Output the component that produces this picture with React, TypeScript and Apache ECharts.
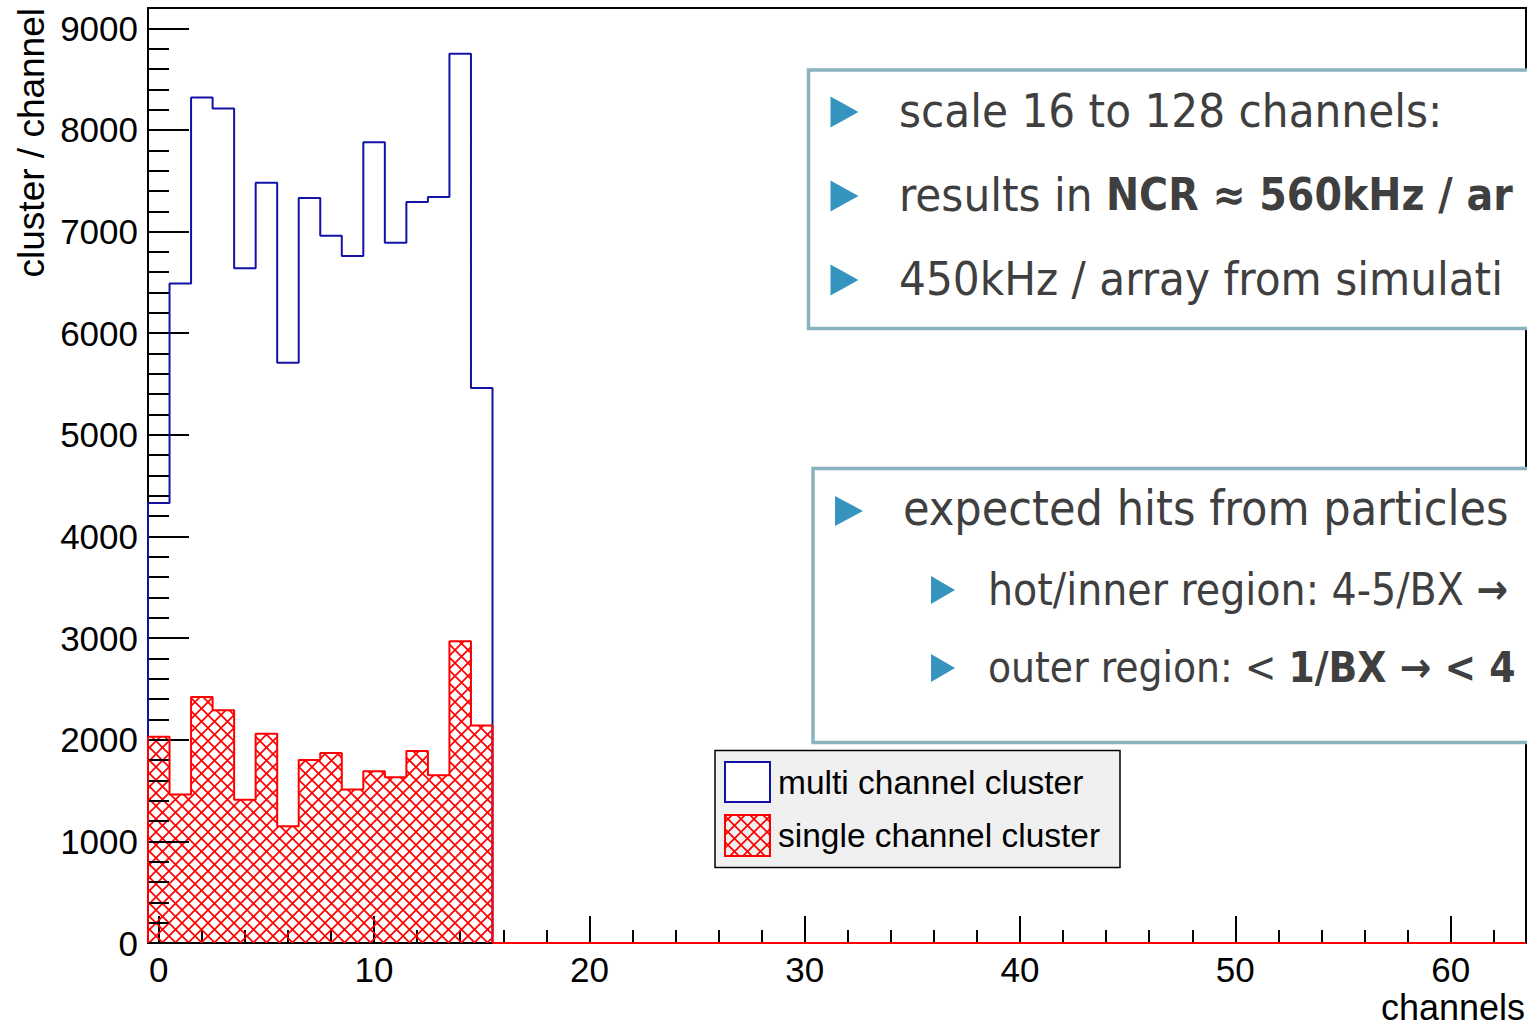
import React, { useEffect, useRef } from "react";
import * as echarts from "echarts";

// ---------------- data ----------------
const channelMin = -0.5;
const channelMax = 63.5;
const binCount = 64; // bins centred on channels 0..63, bins 16..63 are empty
const multiChannelCluster = [4330, 6490, 8320, 8210, 6640, 7480, 5710, 7330, 6960, 6760, 7880, 6890, 7290, 7340, 8750, 5460];
const singleChannelCluster = [2030, 1460, 2420, 2290, 1410, 2060, 1150, 1800, 1870, 1510, 1690, 1630, 1890, 1650, 2970, 2140];

const xMajorTicks = [0, 10, 20, 30, 40, 50, 60];
const xMinorTicks = [0, 2, 4, 6, 8, 10, 12, 14, 16, 18, 20, 22, 24, 26, 28, 30, 32, 34, 36, 38, 40, 42, 44, 46, 48, 50, 52, 54, 56, 58, 60, 62];
const yMin = 0;
const yMax = 9200;
const yMajorTicks = [0, 1000, 2000, 3000, 4000, 5000, 6000, 7000, 8000, 9000];
const yMinorStep = 200;

const xTitle = "channels";
const yTitle = "cluster / channel";
const legendLabels = ["multi channel cluster", "single channel cluster"];

// text boxes (as far as they are visible in the cropped slide): [text, bold] segments
const box1Lines: [string, boolean][][] = [
  [["scale 16 to 128 channels:", false]],
  [["results in ", false], ["NCR ≈ 560kHz / ar", true]],
  [["450kHz / array from simulati", false]],
];
const box2Main: [string, boolean][] = [["expected hits from particles", false]];
const box2Sub: [string, boolean][][] = [
  [["hot/inner region: 4-5/BX ", false], ["→", true]],
  [["outer region: < ", false], ["1/BX → < 4", true]],
];

// ---------------- styles ----------------
const BLUE = "#1212a6";
const RED = "#ff0000";
const BOX_BORDER = "#8ab3c0";
const BULLET = "#3595bf";
const BOX_TEXT = "#3f3f3f";
const AXIS_FONT = "'Liberation Sans', Arial, Helvetica, sans-serif";
const BOX_FONT = "'DejaVu Sans Condensed', 'DejaVu Sans', sans-serif";

function stepData(values: number[]): number[][] {
  const pts: number[][] = [[channelMin, 0]];
  for (let i = 0; i < binCount; i++) {
    pts.push([channelMin + i, values[i] ?? 0]);
  }
  pts.push([channelMax, 0]);
  return pts;
}

function makeHatch(): any {
  const s = 13;
  const c = document.createElement("canvas");
  c.width = s;
  c.height = s;
  const ctx = c.getContext("2d")!;
  ctx.strokeStyle = RED;
  ctx.lineWidth = 1.7;
  for (const k of [-s, 0, s]) {
    ctx.beginPath();
    ctx.moveTo(k, 0);
    ctx.lineTo(k + s, s);
    ctx.stroke();
    ctx.beginPath();
    ctx.moveTo(k + s, 0);
    ctx.lineTo(k, s);
    ctx.stroke();
  }
  return { image: c.toDataURL(), repeat: "repeat", imageWidth: s, imageHeight: s };
}

function richText(segs: [string, boolean][]): string {
  return segs.map((seg) => `{${seg[1] ? "b" : "n"}|${seg[0]}}`).join("");
}

function textLine(x: number, y: number, segs: [string, boolean][], size: number, boldSize: number): any {
  return {
    type: "text",
    x,
    y,
    z: 100,
    style: {
      text: richText(segs),
      align: "left",
      verticalAlign: "middle",
      rich: {
        n: { fontFamily: BOX_FONT, fontSize: size, fill: BOX_TEXT, fontWeight: "normal" },
        b: { fontFamily: BOX_FONT, fontSize: boldSize, fill: BOX_TEXT, fontWeight: "bold" },
      },
    },
  };
}

function bullet(x: number, cy: number, w: number, h: number): any {
  return {
    type: "polygon",
    z: 100,
    shape: { points: [[x, cy - h / 2], [x + w, cy], [x, cy + h / 2]] },
    style: { fill: BULLET },
  };
}

export default function App() {
  const ref = useRef<HTMLDivElement>(null);

  useEffect(() => {
    if (!ref.current) return;
    const chart = echarts.init(ref.current, undefined, { renderer: "svg" });
    const hatch = makeHatch();

    const graphics: any[] = [];
    // axis titles
    graphics.push({
      type: "text",
      x: 31,
      y: 8,
      rotation: Math.PI / 2,
      z: 100,
      style: { text: yTitle, fontFamily: AXIS_FONT, fontSize: 37, fill: "#000", align: "right", verticalAlign: "middle" },
    });
    graphics.push({
      type: "text",
      x: 1525,
      y: 1007,
      z: 100,
      style: { text: xTitle, fontFamily: AXIS_FONT, fontSize: 36, fill: "#000", align: "right", verticalAlign: "middle" },
    });

    // text box 1
    graphics.push({
      type: "rect",
      z: 90,
      shape: { x: 808.5, y: 70, width: 760, height: 258.5 },
      style: { fill: "#fff", stroke: BOX_BORDER, lineWidth: 3.5 },
    });
    const box1Y = [112, 196, 280];
    box1Lines.forEach((segs, i) => {
      graphics.push(bullet(830.5, box1Y[i], 28, 31));
      graphics.push(textLine(899, box1Y[i] - 2, segs, 47, 44));
    });

    // text box 2
    graphics.push({
      type: "rect",
      z: 90,
      shape: { x: 813, y: 468.5, width: 760, height: 274 },
      style: { fill: "#fff", stroke: BOX_BORDER, lineWidth: 3.5 },
    });
    graphics.push(bullet(835, 511, 28, 30));
    graphics.push(textLine(903, 508, box2Main, 48, 48));
    const subY = [590, 668];
    const subSize = [44, 42];
    box2Sub.forEach((segs, i) => {
      graphics.push(bullet(931, subY[i], 24, 28));
      graphics.push(textLine(988, subY[i] - 1, segs, subSize[i], 42));
    });

    // legend
    graphics.push({
      type: "rect",
      z: 95,
      shape: { x: 715, y: 750.5, width: 405, height: 117 },
      style: { fill: "#f0f0f0", stroke: "#000", lineWidth: 1.5 },
    });
    graphics.push({
      type: "rect",
      z: 96,
      shape: { x: 725, y: 762, width: 45, height: 40 },
      style: { fill: "#fff", stroke: BLUE, lineWidth: 2 },
    });
    graphics.push({
      type: "rect",
      z: 96,
      shape: { x: 725, y: 815, width: 45, height: 41 },
      style: { fill: hatch, stroke: RED, lineWidth: 2 },
    });
    const legY = [782, 835];
    legendLabels.forEach((t, i) => {
      graphics.push({
        type: "text",
        x: 778,
        y: legY[i],
        z: 97,
        style: { text: t, fontFamily: AXIS_FONT, fontSize: 33.5, fill: "#000", align: "left", verticalAlign: "middle" },
      });
    });

    const tickStyle = { color: "#000", width: 2 };

    chart.setOption({
      animation: false,
      backgroundColor: "#fff",
      grid: {
        left: 148,
        top: 8,
        right: 1,
        bottom: 83,
        show: true,
        borderColor: "#000",
        borderWidth: 2,
        backgroundColor: "transparent",
      },
      xAxis: [
        {
          type: "value",
          min: channelMin,
          max: channelMax,
          position: "bottom",
          axisLine: { show: true, onZero: false, lineStyle: { color: "#000", width: 2 } },
          axisTick: { show: true, inside: true, length: 27, customValues: xMajorTicks, lineStyle: tickStyle },
          axisLabel: {
            show: true,
            customValues: xMajorTicks,
            fontSize: 35,
            color: "#000",
            fontFamily: AXIS_FONT,
            margin: 9,
            formatter: (v: number) => String(v),
          },
          splitLine: { show: false },
        },
        {
          type: "value",
          min: channelMin,
          max: channelMax,
          position: "bottom",
          offset: 0,
          axisLine: { show: false, onZero: false },
          axisTick: { show: true, inside: true, length: 13, customValues: xMinorTicks, lineStyle: tickStyle },
          axisLabel: { show: false },
          splitLine: { show: false },
        },
      ],
      yAxis: [
        {
          type: "value",
          min: yMin,
          max: yMax,
          position: "left",
          z: 3,
          axisLine: { show: true, onZero: false, lineStyle: { color: "#000", width: 2 } },
          axisTick: { show: true, inside: true, length: 41, customValues: yMajorTicks, lineStyle: tickStyle },
          axisLabel: {
            show: true,
            customValues: yMajorTicks,
            fontSize: 35,
            color: "#000",
            fontFamily: AXIS_FONT,
            margin: 10,
            formatter: (v: number) => String(v),
          },
          splitLine: { show: false },
        },
        {
          type: "value",
          min: yMin,
          max: yMax,
          interval: yMinorStep,
          position: "left",
          offset: 0,
          z: 3,
          axisLine: { show: false, onZero: false },
          axisTick: { show: true, inside: true, length: 21, lineStyle: tickStyle },
          axisLabel: { show: false },
          splitLine: { show: false },
        },
      ],
      series: [
        {
          type: "line",
          name: legendLabels[0],
          xAxisIndex: 0,
          yAxisIndex: 0,
          data: stepData(multiChannelCluster),
          step: "end",
          symbol: "none",
          showSymbol: false,
          clip: false,
          silent: true,
          lineStyle: { color: BLUE, width: 2 },
          itemStyle: { color: BLUE },
        },
        {
          type: "line",
          name: legendLabels[1],
          xAxisIndex: 0,
          yAxisIndex: 0,
          data: stepData(singleChannelCluster),
          step: "end",
          symbol: "none",
          showSymbol: false,
          clip: false,
          silent: true,
          lineStyle: { color: RED, width: 2 },
          itemStyle: { color: RED },
          areaStyle: { color: hatch, opacity: 1 },
        },
      ],
      graphic: { elements: graphics },
    });

    return () => chart.dispose();
  }, []);

  return (
    <div
      ref={ref}
      style={{ position: "fixed", left: 0, top: 0, width: 1527, height: 1026, background: "#fff" }}
    />
  );
}
